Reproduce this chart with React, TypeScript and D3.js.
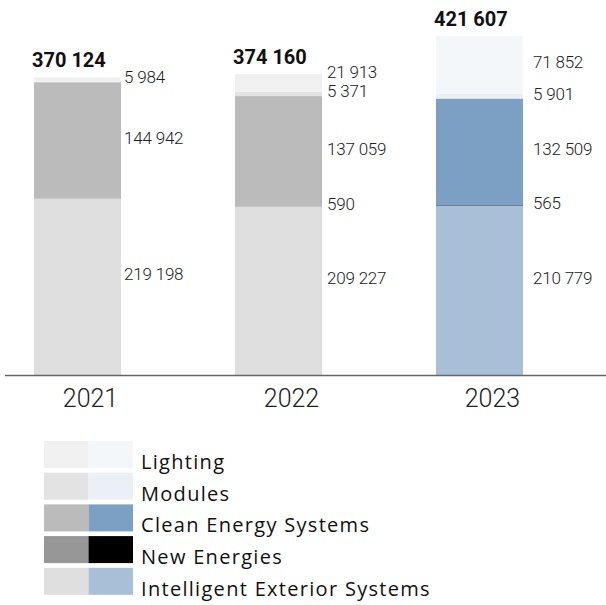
import React from "react";
import * as d3 from "d3";

// Revenue by business segment, three fiscal years
const years = ["2021", "2022", "2023"];
const series = [
  "Intelligent Exterior Systems",
  "New Energies",
  "Clean Energy Systems",
  "Modules",
  "Lighting",
];
const intelligentExterior = [219198, 209227, 210779];
const newEnergies = [0, 590, 565];
const cleanEnergy = [144942, 137059, 132509];
const modules = [0, 5371, 5901];
const lighting = [5984, 21913, 71852];
const totals = [370124, 374160, 421607];

// Two palettes: grey for earlier years, blue for latest year
const greyColors = ["#dedede", "#979797", "#bbbbbb", "#e3e3e3", "#f0f0f0"];
const blueColors = ["#a8bfd7", "#000000", "#7ca0c4", "#ebeff6", "#f4f7fa"];
const legendOrder = [4, 3, 2, 1, 0];
// gap between a bar's right edge and its value labels
const labelGap = [3, 5, 10];

const W = 606;
const H = 605;
const baseY = 375;
const fmt = (v: number) => d3.format(",")(v).replace(/,/g, " ");

export default function App() {
  const seriesValues = [intelligentExterior, newEnergies, cleanEnergy, modules, lighting];
  const table = years.map((yr, i) => {
    const row: any = { year: yr };
    series.forEach((s, j) => (row[s] = seriesValues[j][i]));
    return row;
  });
  const stacked = d3.stack().keys(series)(table);

  const x = d3.scaleBand().domain(years).range([34, 523]).paddingInner(0.567);
  const y = d3.scaleLinear().domain([0, 421607]).range([baseY, 36]);
  const bw = x.bandwidth();

  const colorFor = (j: number, i: number) =>
    i === years.length - 1 ? blueColors[j] : greyColors[j];

  // Value labels: centred on their segment, pushed apart when crowded
  const labels: { x: number; y: number; text: string }[] = [];
  years.forEach((yr, i) => {
    const items: { y: number; text: string }[] = [];
    stacked.forEach((layer, j) => {
      const v = seriesValues[j][i];
      if (!v) return;
      const [a, b] = layer[i];
      let cy = (y(a) + y(b)) / 2 - 2.5;
      if (j === 0) cy -= 10;
      items.push({ y: cy, text: fmt(v) });
    });
    for (let k = 1; k < items.length; k++) {
      items[k].y = Math.min(items[k].y, items[k - 1].y - 19);
    }
    items.forEach((it) =>
      labels.push({ x: (x(yr) as number) + bw + labelGap[i], y: it.y, text: it.text })
    );
  });

  const legendY0 = 441;
  const legendStep = 31.7;

  return (
    <svg
      width={W}
      height={H}
      style={{ position: "absolute", left: 0, top: 0, background: "#fff" }}
      fontFamily="Roboto, 'Noto Sans', sans-serif"
    >
      {stacked.map((layer, j) =>
        layer.map((d, i) => {
          const h = y(d[0]) - y(d[1]);
          if (h <= 0) return null;
          return (
            <rect
              key={`${j}-${i}`}
              x={x(years[i]) as number}
              y={y(d[1])}
              width={bw}
              height={h}
              fill={colorFor(j, i)}
            />
          );
        })
      )}

      {labels.map((l, k) => (
        <text
          key={k}
          x={l.x}
          y={l.y}
          dy="0.35em"
          fontSize={17}
          fontWeight={300}
          fill="#222"
          letterSpacing={-0.2}
        >
          {l.text}
        </text>
      ))}

      {years.map((yr, i) => (
        <text
          key={`t-${yr}`}
          x={(x(yr) as number) - 2}
          y={y(totals[i]) - 10}
          fontSize={20}
          fontWeight={700}
          fill="#111"
        >
          {fmt(totals[i])}
        </text>
      ))}

      <line x1={5} x2={W} y1={baseY + 0.5} y2={baseY + 0.5} stroke="#666" strokeWidth={1.5} />

      {years.map((yr) => (
        <text
          key={`y-${yr}`}
          x={(x(yr) as number) + bw / 2 + 13}
          y={407}
          textAnchor="middle"
          fontSize={25}
          fontWeight={300}
          fill="#222"
        >
          {yr}
        </text>
      ))}

      {legendOrder.map((j, r) => {
        const ty = legendY0 + r * legendStep;
        return (
          <g key={`lg-${j}`}>
            <rect x={44} y={ty} width={44.5} height={27} fill={greyColors[j]} />
            <rect x={88.5} y={ty} width={44.5} height={27} fill={blueColors[j]} />
            <text
              x={141}
              y={ty + 28}
              fontSize={20}
              fill="#111"
              fontFamily="'Open Sans', sans-serif"
              letterSpacing={1.3}
            >
              {series[j]}
            </text>
          </g>
        );
      })}
    </svg>
  );
}
